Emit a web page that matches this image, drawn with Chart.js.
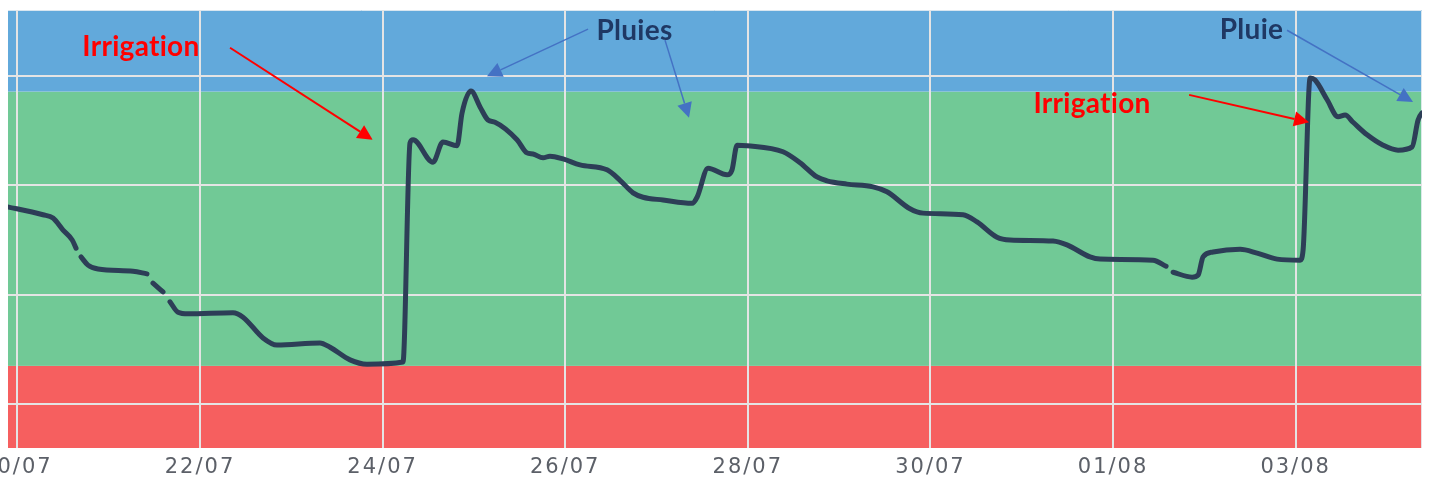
<!DOCTYPE html>
<html>
<head>
<meta charset="utf-8">
<script src="https://cdn.jsdelivr.net/npm/chart.js@4/dist/chart.umd.min.js"></script>
<style>
  html, body { margin: 0; padding: 0; background: #fff; overflow: hidden; width: 1429px; height: 477px; }
  #wrap { position: absolute; left: -40px; top: 0; width: 1469px; height: 488px; }
</style>
</head>
<body>
<div id="wrap"><canvas id="c"></canvas></div>
<script>
// ---- data (x = days since 20/07, y = soil water level, arbitrary units) ----
const days = [
  -0.15, 0.28, 0.39, 0.50, 0.60, 0.642, 0.67, 0.697, 0.773, 0.883, 1.266, 1.419, 1.452, 1.485, 1.595, 1.633,
  1.671, 1.759, 1.868, 2.361, 2.471, 2.690, 2.843, 3.314, 3.424, 3.643, 3.829, 4.223, 4.300, 4.333, 4.552,
  4.661, 4.815, 4.870, 4.968, 5.067, 5.154, 5.231, 5.472, 5.581, 5.647, 5.757, 5.833, 5.976, 6.162, 6.458,
  6.600, 6.743, 6.852, 7.071, 7.389, 7.444, 7.564, 7.772, 7.827, 7.882, 7.991, 8.385, 8.572, 8.758, 8.867,
  9.086, 9.371, 9.524, 9.776, 9.919, 10.357, 10.510, 10.729, 10.872, 11.343, 11.496, 11.748, 11.858, 12.438,
  12.581, 12.62, 12.658, 12.866, 12.932, 12.986, 13.096, 13.392, 13.578, 13.797, 14.049, 14.082, 14.159,
  14.213, 14.345, 14.465, 14.542, 14.629, 14.783, 14.958, 15.122, 15.276, 15.341, 15.385, 15.43
];
const levels = [
  36.2, 34.6, 34.0, 31.8, 30.0, 28.5, null, 26.9, 25.4, 24.7, 24.3, 23.8, null, 22.1, 20.5, null,
  18.7, 16.8, 16.5, 16.7, 15.9, 12.1, 10.8, 11.2, 10.4, 8.1, 7.3, 7.7, 47.7, 48.3, 44.2,
  47.9, 47.2, 53.2, 57.2, 54.3, 51.9, 51.5, 48.3, 45.9, 45.7, 45.0, 45.3, 44.8, 43.7, 42.8,
  40.9, 38.6, 37.8, 37.3, 36.7, 37.8, 43.1, 41.9, 42.8, 47.3, 47.2, 46.1, 44.1, 41.5, 40.8,
  40.2, 39.7, 38.8, 35.7, 34.9, 34.6, 33.3, 30.5, 30.0, 29.8, 29.1, 26.9, 26.5, 26.3,
  25.2, null, 24.1, 23.2, 23.6, 26.9, 27.8, 28.3, 27.6, 26.5, 26.3, 28.2, 59.6,
  59.2, 55.6, 52.5, 52.8, 51.5, 49.2, 47.3, 46.4, 47.0, 51.9, 53.2, 53.7
];
const tickDays = [0, 2, 4, 6, 8, 10, 12, 14];
const tickLabels = ['20/07', '22/07', '24/07', '26/07', '28/07', '30/07', '01/08', '03/08'];
const yGridValues = [0, 20, 40, 60];
const xRange = [-0.103, 15.384];
const yRange = [-8, 72];

// zones: [from, to, colour]
const zoneFrom = [-8, 7, 57.1];
const zoneTo = [7, 57.1, 72];
const zoneColors = ['#f65f5f', '#71c996', '#62a9db'];

// annotations (data coordinates)
const noteTexts = ['Irrigation', 'Pluies', 'Pluie', 'Irrigation'];
const noteX = [1.353, 6.759, 13.517, 11.770];
const noteY = [63.6, 66.5, 66.7, 53.2];
const noteColors = ['#ff0000', '#1f3864', '#1f3864', '#ff0000'];
const arrowFromX = [2.329, 6.250, 7.093, 12.833, 13.906];
const arrowFromY = [65.1, 68.5, 66.5, 56.5, 68.3];
const arrowToX = [3.891, 5.143, 7.356, 14.147, 15.286];
const arrowToY = [48.3, 59.9, 52.3, 51.5, 55.2];
const arrowColors = ['#ff0000', '#4472c4', '#4472c4', '#ff0000', '#4472c4'];
const arrowWidths = [2, 1.5, 1.5, 2, 1.5];

const points = days.map((d, i) => ({ x: d, y: levels[i] }));

const decor = {
  id: 'decor',
  beforeDraw(chart) {
    const { ctx, chartArea: a, scales: { y } } = chart;
    ctx.save();
    for (let i = 0; i < zoneColors.length; i++) {
      const top = y.getPixelForValue(zoneTo[i]);
      const bot = y.getPixelForValue(zoneFrom[i]);
      ctx.fillStyle = zoneColors[i];
      ctx.fillRect(a.left, top, a.right - a.left, bot - top);
    }
    // faint frame top/right
    ctx.strokeStyle = 'rgba(230,236,242,0.9)';
    ctx.lineWidth = 1;
    ctx.beginPath();
    ctx.moveTo(a.left, a.top + 0.5);
    ctx.lineTo(a.right - 0.5, a.top + 0.5);
    ctx.lineTo(a.right - 0.5, a.bottom);
    ctx.stroke();
    ctx.restore();
    ctx.letterSpacing = '2px';
  },
  afterDraw(chart) {
    const { ctx, scales: { x, y } } = chart;
    ctx.save();
    ctx.letterSpacing = '0.3px';
    ctx.font = 'bold 28px Lato';
    ctx.textAlign = 'center';
    ctx.textBaseline = 'alphabetic';
    for (let i = 0; i < noteTexts.length; i++) {
      ctx.fillStyle = noteColors[i];
      ctx.fillText(noteTexts[i], x.getPixelForValue(noteX[i]), y.getPixelForValue(noteY[i]));
    }
    for (let i = 0; i < arrowColors.length; i++) {
      const x1 = x.getPixelForValue(arrowFromX[i]), y1 = y.getPixelForValue(arrowFromY[i]);
      const x2 = x.getPixelForValue(arrowToX[i]), y2 = y.getPixelForValue(arrowToY[i]);
      const ang = Math.atan2(y2 - y1, x2 - x1);
      const L = 15, W = 7.5;
      const bx = x2 - L * Math.cos(ang), by = y2 - L * Math.sin(ang);
      ctx.strokeStyle = arrowColors[i];
      ctx.fillStyle = arrowColors[i];
      ctx.lineWidth = arrowWidths[i];
      ctx.beginPath();
      ctx.moveTo(x1, y1);
      ctx.lineTo(bx, by);
      ctx.stroke();
      ctx.beginPath();
      ctx.moveTo(x2, y2);
      ctx.lineTo(bx + W * Math.sin(ang), by - W * Math.cos(ang));
      ctx.lineTo(bx - W * Math.sin(ang), by + W * Math.cos(ang));
      ctx.closePath();
      ctx.fill();
    }
    ctx.restore();
  }
};

new Chart(document.getElementById('c'), {
  type: 'line',
  data: {
    datasets: [{
      data: points,
      borderColor: '#2d3e57',
      borderWidth: 5,
      pointRadius: 0,
      cubicInterpolationMode: 'monotone',
      borderCapStyle: 'round',
      borderJoinStyle: 'round',
      spanGaps: false,
      fill: false,
      clip: 0
    }]
  },
  options: {
    responsive: true,
    maintainAspectRatio: false,
    animation: false,
    events: [],
    layout: { padding: { left: 48, right: 7, top: 10, bottom: 0 } },
    plugins: { legend: { display: false }, tooltip: { enabled: false } },
    scales: {
      x: {
        type: 'linear',
        min: xRange[0],
        max: xRange[1],
        afterBuildTicks: (s) => { s.ticks = tickDays.map(v => ({ value: v })); },
        grid: { color: '#e4e4e4', lineWidth: 2, drawTicks: false },
        border: { display: false },
        ticks: {
          autoSkip: false,
          maxRotation: 0,
          padding: 8,
          color: '#5c6068',
          font: { family: 'DejaVu Sans', size: 21, lineHeight: '24px' },
          callback: (v, i) => tickLabels[i]
        }
      },
      y: {
        min: yRange[0],
        max: yRange[1],
        afterBuildTicks: (s) => { s.ticks = yGridValues.map(v => ({ value: v })); },
        grid: { color: '#e4e4e4', lineWidth: 2, drawTicks: false },
        border: { display: false },
        ticks: { display: false }
      }
    }
  },
  plugins: [decor]
});
</script>
</body>
</html>
